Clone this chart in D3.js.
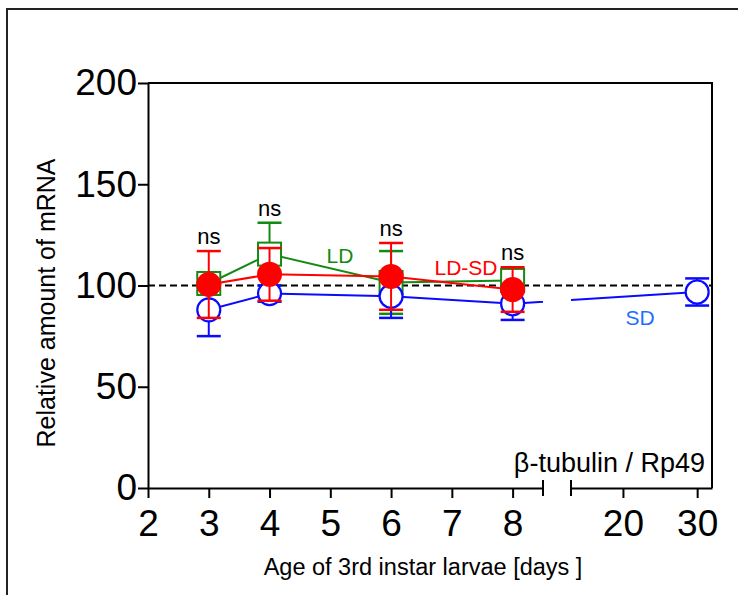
<!DOCTYPE html>
<html>
<head>
<meta charset="utf-8">
<script src="https://cdn.jsdelivr.net/npm/d3@7"></script>
<style>
  body { margin: 0; background: #fff; }
  svg { display: block; font-family: "Liberation Sans", Arial, sans-serif; }
</style>
</head>
<body>
<svg id="chart" width="738" height="595"></svg>
<script>
// data
var days = [3, 4, 6, 8];
var sdDays = [3, 4, 6, 8, 30];

var sdMean = [88, 96, 94.7, 91, 96.8];
var sdErr  = [13, 4, 10.7, 8, 6.7];

var ldMean = [101, 115.5, 101.5, 102.5];
var ldErr  = [4, 15.5, 15.5, 4];

var ldsdMean = [100.5, 105.5, 104.5, 98];
var ldsdErr  = [16.5, 13, 16.5, 11];

var nsY = [117, 131, 121, 109];   // top of highest bar at each day
var yTicks = [0, 50, 100, 150, 200];
var xTicksLeft = [2, 3, 4, 5, 6, 7, 8];
var xTicksRight = [20, 30];

var svg = d3.select("#chart");

var padL = 148, padR = 712, padT = 83, padB = 488;
var breakL = 543, breakR = 571;

var y = d3.scaleLinear().domain([0, 200]).range([padB, padT]);
var xL = d3.scaleLinear().domain([2, 8.5]).range([padL, breakL]);
var xR = d3.scaleLinear().domain([13, 32]).range([breakR, padR]);
function xp(d) { return d <= 8.5 ? xL(d) : xR(d); }

var blue = "#0a0aff", green = "#138a13", red = "#ff0000";

// outer frame
svg.append("rect")
    .attr("x", 7).attr("y", 9).attr("width", 800).attr("height", 700)
    .attr("fill", "none").attr("stroke", "#222").attr("stroke-width", 2);

// clip paths for the broken axis
var defs = svg.append("defs");
defs.append("clipPath").attr("id", "clipL").append("rect")
    .attr("x", padL).attr("y", 0).attr("width", breakL - padL).attr("height", 595);
defs.append("clipPath").attr("id", "clipR").append("rect")
    .attr("x", breakR).attr("y", 0).attr("width", padR - breakR).attr("height", 595);

// top and right border of the plot
svg.append("line").attr("x1", padL).attr("x2", padR + 1).attr("y1", padT).attr("y2", padT)
    .attr("stroke", "#000").attr("stroke-width", 2);
svg.append("line").attr("x1", padR).attr("x2", padR).attr("y1", padT).attr("y2", padB)
    .attr("stroke", "#000").attr("stroke-width", 2);

// dashed reference line at 100
svg.append("line")
    .attr("x1", padL).attr("x2", padR).attr("y1", y(100)).attr("y2", y(100))
    .attr("stroke", "#000").attr("stroke-width", 2).attr("stroke-dasharray", "7,4");

// axes
var yAxis = svg.append("g")
    .attr("transform", "translate(" + padL + ",0)")
    .call(d3.axisLeft(y).tickValues(yTicks).tickSize(10).tickSizeOuter(0).tickPadding(1));

var xAxisL = svg.append("g")
    .attr("transform", "translate(0," + padB + ")")
    .call(d3.axisBottom(xL).tickValues(xTicksLeft).tickFormat(d3.format("d"))
        .tickSize(10).tickSizeOuter(0).tickPadding(12));

var xAxisR = svg.append("g")
    .attr("transform", "translate(0," + padB + ")")
    .call(d3.axisBottom(xR).tickValues(xTicksRight).tickFormat(d3.format("d"))
        .tickSize(10).tickSizeOuter(0).tickPadding(12));

[yAxis, xAxisL, xAxisR].forEach(function(g) {
    g.selectAll("path, line").attr("stroke", "#000").attr("stroke-width", 2);
    g.selectAll("text").attr("fill", "#000").style("font-size", "37px")
        .style("font-family", "'Liberation Sans', Arial, sans-serif");
});

// break marks
[breakL, breakR].forEach(function(bx) {
    svg.append("line").attr("x1", bx).attr("x2", bx).attr("y1", padB - 8).attr("y2", padB + 8)
        .attr("stroke", "#000").attr("stroke-width", 2);
});

// axis titles
svg.append("text")
    .attr("x", 423).attr("y", 575).attr("text-anchor", "middle")
    .style("font-size", "23.5px").text("Age of 3rd instar larvae [days ]");

svg.append("text")
    .attr("transform", "translate(55,303) rotate(-90)").attr("text-anchor", "middle")
    .style("font-size", "25px").text("Relative amount of mRNA");

svg.append("text")
    .attr("x", 705).attr("y", 472).attr("text-anchor", "end")
    .style("font-size", "27px").text("β-tubulin / Rp49");

// draws one series: line, error bars, markers
function drawSeries(xs, means, errs, color, kind) {
    var pts = xs.map(function(d, i) { return { x: d, m: means[i], e: errs[i] }; });
    var line = d3.line().x(function(d) { return xp(d.x); }).y(function(d) { return y(d.m); });
    ["clipL", "clipR"].forEach(function(c) {
        svg.append("path").datum(pts)
            .attr("clip-path", "url(#" + c + ")")
            .attr("d", line).attr("fill", "none")
            .attr("stroke", color).attr("stroke-width", 2);
    });

    var g = svg.append("g");
    var eb = g.selectAll(".eb").data(pts).enter().append("g");
    eb.append("line")
        .attr("x1", function(d) { return xp(d.x); }).attr("x2", function(d) { return xp(d.x); })
        .attr("y1", function(d) { return y(d.m - d.e); }).attr("y2", function(d) { return y(d.m + d.e); })
        .attr("stroke", color).attr("stroke-width", 2);
    [-1, 1].forEach(function(s) {
        eb.append("line")
            .attr("x1", function(d) { return xp(d.x) - 12; }).attr("x2", function(d) { return xp(d.x) + 12; })
            .attr("y1", function(d) { return y(d.m + s * d.e); }).attr("y2", function(d) { return y(d.m + s * d.e); })
            .attr("stroke", color).attr("stroke-width", 2.5);
    });

    if (kind === "square") {
        g.selectAll(".mk").data(pts).enter().append("rect")
            .attr("x", function(d) { return xp(d.x) - 11.5; })
            .attr("y", function(d) { return y(d.m) - 11.5; })
            .attr("width", 23).attr("height", 23)
            .attr("fill", "#fff").attr("stroke", color).attr("stroke-width", 2);
    } else if (kind === "open") {
        g.selectAll(".mk").data(pts).enter().append("circle")
            .attr("cx", function(d) { return xp(d.x); }).attr("cy", function(d) { return y(d.m); })
            .attr("r", 11.5).attr("fill", "#fff").attr("stroke", color).attr("stroke-width", 2.2);
    } else {
        g.selectAll(".mk").data(pts).enter().append("circle")
            .attr("cx", function(d) { return xp(d.x); }).attr("cy", function(d) { return y(d.m); })
            .attr("r", 12.5).attr("fill", color);
    }
}

drawSeries(days, ldMean, ldErr, green, "square");
drawSeries(sdDays, sdMean, sdErr, blue, "open");
drawSeries(days, ldsdMean, ldsdErr, red, "filled");

// ns labels
svg.selectAll(".ns").data(days).enter().append("text")
    .attr("x", function(d) { return xL(d); })
    .attr("y", function(d, i) { return y(nsY[i]) - 7; })
    .attr("text-anchor", "middle").style("font-size", "22px").text("ns");

// series labels
svg.append("text").attr("x", 340).attr("y", 263).attr("text-anchor", "middle")
    .attr("fill", green).style("font-size", "21px").text("LD");
svg.append("text").attr("x", 466).attr("y", 275).attr("text-anchor", "middle")
    .attr("fill", red).style("font-size", "21px").text("LD-SD");
svg.append("text").attr("x", 640).attr("y", 325).attr("text-anchor", "middle")
    .attr("fill", "#1f6fff").style("font-size", "21px").text("SD");
</script>
</body>
</html>
